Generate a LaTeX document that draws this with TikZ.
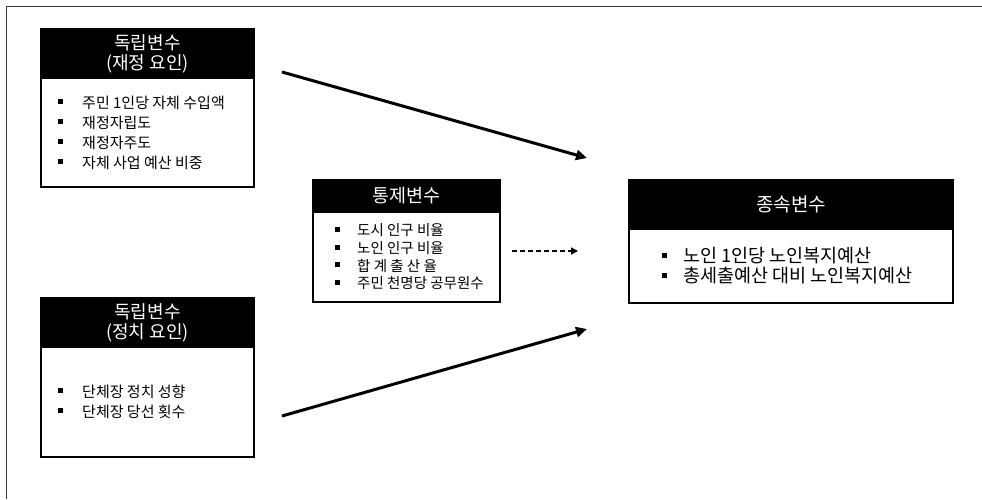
\documentclass[tikz,border=0pt]{standalone}
\usepackage{fontspec}
\setmainfont{Noto Sans CJK KR}
\usetikzlibrary{positioning,arrows.meta}

\definecolor{framegray}{RGB}{55,55,55}
\tikzset{
  headbox/.style={draw=black, fill=black, text=white, line width=1.5pt, inner sep=0pt, outer sep=0pt, align=center},
  bodybox/.style={draw=black, fill=white, line width=1.8pt, inner sep=0pt, outer sep=0pt},
  itemlist/.style={inner sep=0pt, align=left, anchor=west},
  bigarrow/.style={line width=3pt, -{Triangle[length=11pt,width=10pt]}},
  ctrlarrow/.style={line width=1.6pt, dash pattern=on 5pt off 3pt, -{Triangle[length=7pt,width=7pt]}}
}
\newcommand{\sqbul}[1]{\makebox[#1][l]{\rule[0.28em]{5pt}{5pt}}}

\begin{document}
\begin{tikzpicture}[x=1pt, y=-1pt]
        \useasboundingbox (0,0) rectangle (982,499);
        % Frame
        \draw[framegray, line width=1.5pt] (6.5,499) -- (6.5,6.5) -- (982,6.5);
        % Independent variables (fiscal)
        \node[headbox, minimum width=213pt, minimum height=49pt, font=\fontsize{18}{20}\selectfont] (fisH) at (147.5,53.5) {독립변수\\(재정 요인)};
        \node[bodybox, minimum width=213pt, minimum height=109pt, below=0pt of fisH] (fisB) {};
        \node[itemlist, font=\fontsize{15}{20}\selectfont] (fisL) at ([xshift=17pt]fisB.west) {\sqbul{24pt}주민 1인당 자체 수입액\\ \sqbul{24pt}재정자립도\\ \sqbul{24pt}재정자주도\\ \sqbul{24pt}자체 사업 예산 비중};
        % Independent variables (political)
        \node[headbox, minimum width=213pt, minimum height=49pt, font=\fontsize{18}{20}\selectfont] (polH) at (147.5,322.5) {독립변수\\(정치 요인)};
        \node[bodybox, minimum width=213pt, minimum height=110pt, below=0pt of polH] (polB) {};
        \node[itemlist, font=\fontsize{15}{20}\selectfont] (polL) at ([xshift=17pt]polB.west) {\sqbul{24pt}단체장 정치 성향\\ \sqbul{24pt}단체장 당선 횟수};
        % Control variables
        \node[headbox, minimum width=187pt, minimum height=32pt, font=\fontsize{18.5}{20}\selectfont] (ctlH) at (406.5,196) {통제변수};
        \node[bodybox, minimum width=187pt, minimum height=90pt, below=0pt of ctlH] (ctlB) {};
        \node[itemlist, font=\fontsize{14.5}{17.7}\selectfont] (ctlL) at ([xshift=22pt]ctlB.west) {\sqbul{22pt}도시 인구 비율\\ \sqbul{22pt}노인 인구 비율\\ \sqbul{22pt}합 계 출 산 율\\ \sqbul{22pt}주민 천명당 공무원수};
        % Dependent variables
        \node[headbox, minimum width=324pt, minimum height=49pt, font=\fontsize{19}{20}\selectfont] (depH) at (791,204.5) {종속변수};
        \node[bodybox, minimum width=324pt, minimum height=74pt, below=0pt of depH] (depB) {};
        \node[itemlist, font=\fontsize{18.5}{20}\selectfont] (depL) at ([xshift=33pt]depB.west) {\sqbul{21pt}노인 1인당 노인복지예산\\ \sqbul{21pt}총세출예산 대비 노인복지예산};
        % Arrows
        \coordinate (fisS) at (282,72);
        \coordinate (fisE) at (587,158);
        \coordinate (polS) at (282,416);
        \coordinate (polE) at (587,329);
        \coordinate (ctlS) at (512,251);
        \coordinate (ctlE) at (578,251);
        \draw[bigarrow] (fisS) -- (fisE);
        \draw[bigarrow] (polS) -- (polE);
        \draw[ctrlarrow] (ctlS) -- (ctlE);
    \end{tikzpicture}
\end{document}
